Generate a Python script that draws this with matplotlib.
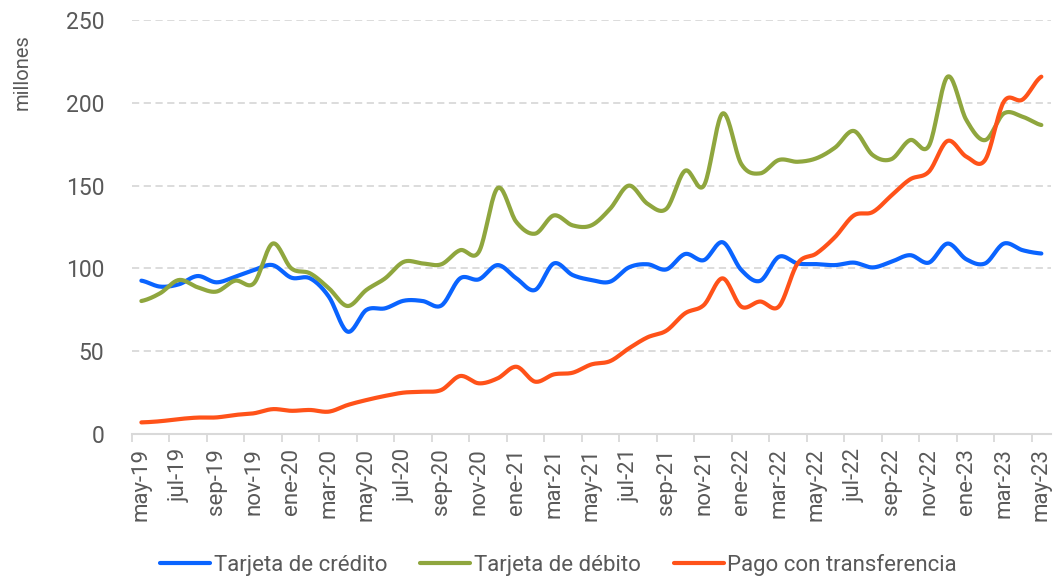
import matplotlib
matplotlib.use("Agg")
import matplotlib.pyplot as plt
import numpy as np

plt.rcParams['font.family'] = ['Roboto', 'DejaVu Sans']

# meses may-19 .. may-23
meses = ['ene', 'feb', 'mar', 'abr', 'may', 'jun', 'jul', 'ago',
         'sep', 'oct', 'nov', 'dic']
etiquetas = []
for k in range(49):
    m = (k + 4) % 12
    anio = 19 + (k + 4) // 12
    etiquetas.append('%s-%d' % (meses[m], anio))

credito = [92.6, 89, 90.4, 95.4, 91.6, 95, 99, 102, 94.4, 94, 82.9, 61.8,
           74.9, 75.9, 80.5, 80.3, 77.6, 94, 93.4, 102, 94, 87, 103, 96,
           93, 92, 100.6, 102.5, 99.4, 108.7, 105, 115.8, 99, 92.5, 107, 103,
           102.6, 102, 103.5, 100.6, 104, 108, 103.5, 115, 105.5, 103, 115, 111,
           109]
debito = [80.3, 85, 93, 88.6, 86, 92.6, 91, 115, 100, 97, 88, 77.3,
          87, 94, 104, 103, 102.5, 111, 110, 148.5, 128, 121, 132, 126,
          126, 136, 150, 139, 136, 159, 150, 193.6, 163, 157.4, 165.5, 164.4,
          166.5, 173, 183, 168.5, 166, 177.5, 174, 215.8, 189.6, 177.5, 193.6, 191.6,
          186.6]
transferencia = [7, 7.7, 9, 9.9, 10, 11.5, 12.5, 15, 14, 14.5, 13.5, 17.5,
                 20.5, 23, 25, 25.5, 26.6, 35, 30.6, 33.6, 40.6, 31.6, 36, 37,
                 42, 44, 51.7, 58.4, 62.4, 72.9, 77.9, 94, 76.9, 80, 77, 103,
                 109, 119, 132, 134, 144, 153.8, 158.4, 177, 167.5, 165.5, 200.7, 202,
                 215.8]

series = [('Tarjeta de crédito', credito, '#0A64FF'),
          ('Tarjeta de débito', debito, '#8FA63E'),
          ('Pago con transferencia', transferencia, '#FF5219')]


def suavizar(y, n=20):
    # curva tipo catmull-rom, como la linea suavizada de excel
    y = np.asarray(y, dtype=float)
    p = np.concatenate([[y[0]], y, [y[-1]]])
    xs, ys = [], []
    for i in range(len(y) - 1):
        p0, p1, p2, p3 = p[i], p[i + 1], p[i + 2], p[i + 3]
        t = np.linspace(0, 1, n, endpoint=False)
        m1 = (p2 - p0) / 2
        m2 = (p3 - p1) / 2
        h00 = 2*t**3 - 3*t**2 + 1
        h10 = t**3 - 2*t**2 + t
        h01 = -2*t**3 + 3*t**2
        h11 = t**3 - t**2
        xs.append(i + t)
        ys.append(h00*p1 + h10*m1 + h01*p2 + h11*m2)
    xs.append([len(y) - 1])
    ys.append([y[-1]])
    return np.concatenate(xs), np.concatenate(ys)


fig = plt.figure(figsize=(10.56, 5.83), dpi=100)
ax = fig.add_axes([0.125, 0.2556, 0.87, 0.71])

for nombre, datos, color in series:
    xx, yy = suavizar(datos)
    ax.plot(xx, yy, color=color, lw=3.0, label=nombre,
            solid_capstyle='round', zorder=3)

ax.set_xlim(-0.5, 48.5)
ax.set_ylim(0, 250)
ax.set_yticks(range(0, 251, 50))
for v in range(50, 251, 50):
    ax.axhline(v, color='#D9D9D9', lw=1.3, linestyle=(0, (4, 2.5)), zorder=1)

ax.set_xticks(range(0, 49, 2))
ax.set_xticklabels(etiquetas[::2], rotation=90)
ax.set_xticks(np.arange(-0.5, 48, 2), minor=True)
ax.tick_params(axis='x', which='major', length=0, pad=10,
               labelsize=16, labelcolor='#595959')
ax.tick_params(axis='x', which='minor', length=6, width=1.3, color='#D9D9D9')
ax.tick_params(axis='y', length=0, pad=20, labelsize=16.5, labelcolor='#595959')

for s in ['top', 'right', 'left']:
    ax.spines[s].set_visible(False)
ax.spines['bottom'].set_color('#D9D9D9')
ax.spines['bottom'].set_linewidth(1.5)

fig.text(0.021, 0.877, 'millones', rotation=90, ha='center', va='center',
         fontsize=14.5, color='#595959')

fig.legend(loc='lower center', bbox_to_anchor=(0.529, -0.022), ncol=3,
           frameon=False, fontsize=16, handlelength=2.25, handletextpad=0.15,
           columnspacing=1.5, labelcolor='#595959')

fig.savefig('out.png', dpi=100)
